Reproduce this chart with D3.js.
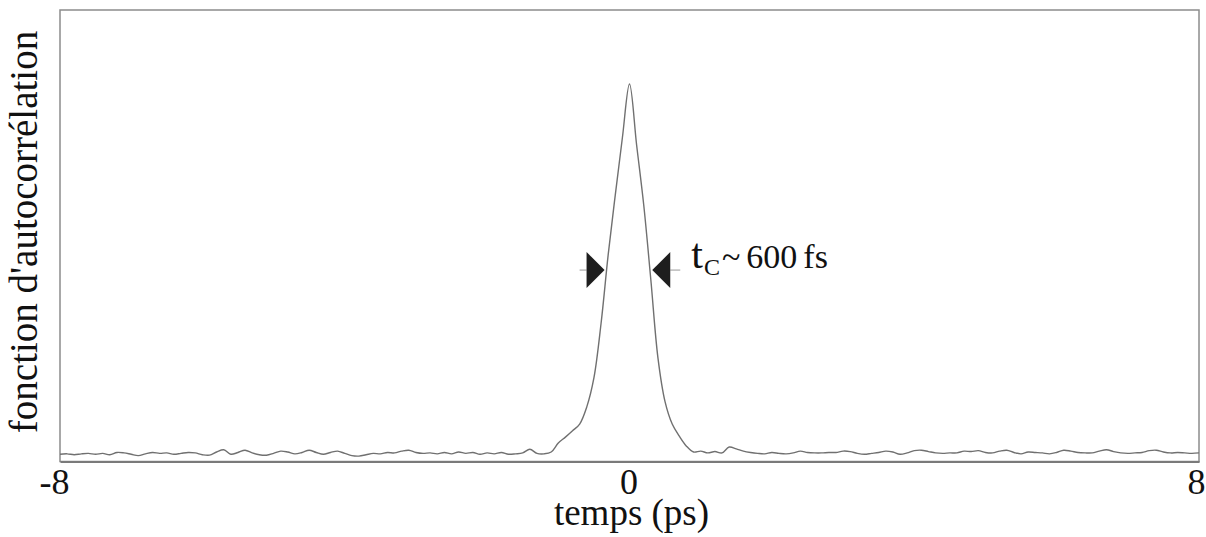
<!DOCTYPE html>
<html>
<head>
<meta charset="utf-8">
<script src="https://cdn.jsdelivr.net/npm/d3@7/dist/d3.min.js"></script>
<style>
  html, body { margin: 0; padding: 0; background: #fff; }
  svg { display: block; }
  text { font-family: "Liberation Serif", "Times New Roman", serif; fill: #111; }
</style>
</head>
<body>
<svg id="chart" width="1206" height="537"></svg>
<script>
// ---- data ----
const tStart = -8.0;          // ps, first sample
const tStep = 0.1;            // ps, sampling step
// autocorrelation signal (arb. units)
const leftWing = [
  1.6, 1.7, 1.5, 1.7, 1.8, 1.6, 1.8, 1.5, 2.0, 1.9,
  1.6, 1.3, 1.7, 2.0, 1.8, 1.9, 1.6, 1.8, 2.0, 1.9,
  1.5, 1.4, 2.1, 2.6, 1.6, 2.0, 2.5, 1.9, 1.5, 1.4,
  1.8, 2.3, 2.1, 1.7, 2.0, 2.5, 2.0, 1.6, 2.0, 2.3,
  1.8, 1.3, 1.2, 1.5, 1.8, 1.7, 2.0, 1.9, 2.3, 2.5,
  2.0, 1.8, 1.9, 1.7,
  2.0, 1.7, 2.1, 1.8, 2.0, 1.6, 1.9, 1.7, 2.0, 1.6,
  1.7, 1.9, 2.7, 1.8, 1.7
];
const peak = [
  2.1, 4.1, 5.4, 6.8, 8.3, 12.1, 18.5, 30.5, 45.7, 59.0, 71.7,
  83.6,
  70.1, 56.8, 40.2, 22.9, 13.2, 8.3, 5.6, 3.4, 2.1, 2.3
];
const rightWing = [
  1.9, 2.2, 1.9, 3.2, 2.8, 2.3, 2.0, 1.8, 1.7, 2.0,
  1.8, 1.7, 1.9, 2.3, 2.0, 1.9,
  1.9, 2.0, 2.0, 2.3, 2.2, 1.8, 1.6, 1.8, 2.0, 2.3,
  2.1, 1.6, 1.9, 2.4, 2.5, 2.2, 1.9, 1.8, 1.9, 1.9,
  2.3, 2.2, 2.4, 2.0, 1.9, 2.3, 2.5, 2.0, 1.7, 2.1,
  2.0, 1.9, 1.7, 2.0, 2.5, 2.3, 2.0, 1.9, 1.9, 2.3,
  2.6, 2.2, 1.9, 1.8, 1.9, 2.0, 2.4, 2.5, 2.1, 1.9,
  2.0, 1.9, 1.8, 1.9
];
const xTicks = [-8, 0, 8];
const xTickLabels = ["-8", "0", "8"];
const xDomain = [-8, 8];
const yDomain = [0, 100];
const fwhmMarks = [-0.35, 0.32];   // ps, marker tips
const halfMax = 42.4;
const xTitle = "temps (ps)";
const yTitle = "fonction d'autocorrélation";

// ---- build ----
const signal = leftWing.concat(peak, rightWing);
const data = signal.map((v, i) => ({ t: tStart + i * tStep, v }));

const svg = d3.select("#chart");
const mLeft = 60, mRight = 1199, mTop = 10, mBottom = 461.5;

const x = d3.scaleLinear().domain(xDomain).range([mLeft, mRight]);
const y = d3.scaleLinear().domain(yDomain).range([mBottom, mTop]);

// frame
svg.append("rect")
  .attr("x", mLeft).attr("y", mTop)
  .attr("width", mRight - mLeft).attr("height", mBottom - mTop)
  .attr("fill", "none").attr("stroke", "#8c8c8c").attr("stroke-width", 1.5);

// x axis
const xAxis = d3.axisBottom(x).tickValues(xTicks).tickSize(0).tickPadding(0)
  .tickFormat((d, i) => xTickLabels[i]);
const gx = svg.append("g").attr("transform", `translate(0,${mBottom})`).call(xAxis);
gx.select(".domain").attr("stroke", "#7a7a7a").attr("stroke-width", 2);
gx.selectAll(".tick text")
  .attr("y", 32.5).attr("dy", 0)
  .attr("dx", d => d < 0 ? -6 : (d > 0 ? -3 : -1))
  .style("font-family", '"Liberation Serif", serif')
  .style("font-size", "36px").attr("fill", "#111");

// signal line
const line = d3.line().x(d => x(d.t)).y(d => y(d.v)).curve(d3.curveCatmullRom.alpha(0.5));
svg.append("path").datum(data)
  .attr("d", line).attr("fill", "none")
  .attr("stroke", "#707070").attr("stroke-width", 1.4);

// FWHM markers
const yh = y(halfMax);
const triH = 18, triW = 18;
// left marker (pointing right)
const lx = x(fwhmMarks[0]);
svg.append("line").attr("x1", lx - triW - 7).attr("x2", lx - triW).attr("y1", yh).attr("y2", yh)
  .attr("stroke", "#999").attr("stroke-width", 1);
svg.append("path")
  .attr("d", `M${lx - triW},${yh - triH} L${lx},${yh} L${lx - triW},${yh + triH} Z`)
  .attr("fill", "#1e1e1e");
// right marker (pointing left)
const rx = x(fwhmMarks[1]);
svg.append("line").attr("x1", rx + triW).attr("x2", rx + triW + 10).attr("y1", yh).attr("y2", yh)
  .attr("stroke", "#999").attr("stroke-width", 1);
svg.append("path")
  .attr("d", `M${rx + triW},${yh - triH} L${rx},${yh} L${rx + triW},${yh + triH} Z`)
  .attr("fill", "#1e1e1e");

// annotation
const ann = svg.append("text").attr("x", rx + triW + 21).attr("y", yh - 2);
ann.append("tspan").style("font-size", "42px").text("t");
ann.append("tspan").style("font-size", "24px").attr("dy", 7).attr("dx", 1).text("C");
ann.append("tspan").style("font-size", "34px").attr("dy", -7).attr("dx", 2).text("~");
ann.append("tspan").style("font-size", "34px").attr("dx", 6).text("600");
ann.append("tspan").style("font-size", "34px").attr("dx", 6).text("fs");

// axis titles
svg.append("text")
  .attr("x", (mLeft + mRight) / 2 + 2).attr("y", 525)
  .attr("text-anchor", "middle").style("font-size", "37px")
  .text(xTitle);
svg.append("text")
  .attr("transform", `translate(37,${232}) rotate(-90)`)
  .attr("text-anchor", "middle").style("font-size", "39px")
  .text(yTitle);
</script>
</body>
</html>
